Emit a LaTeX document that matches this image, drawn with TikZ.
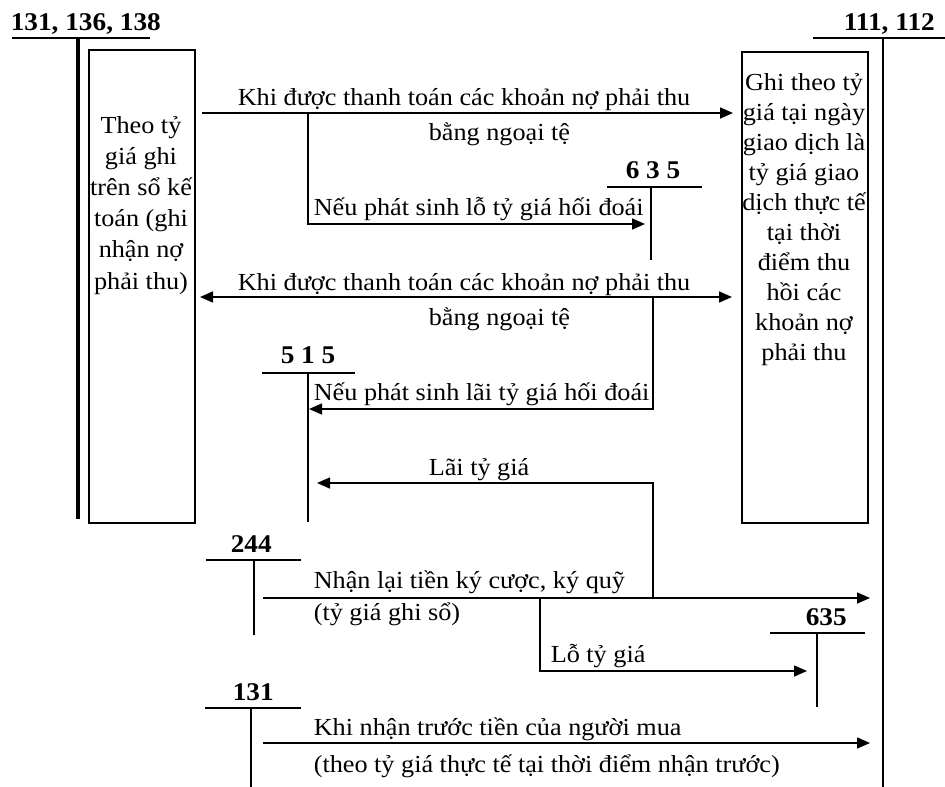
\documentclass[tikz,border=0pt]{standalone}
\usepackage{fontspec}
\setmainfont[FakeStretch=1.07]{Liberation Serif}
\usetikzlibrary{arrows.meta}
\newcommand\mytxt{\fontsize{24.5}{30}\selectfont}
\newcommand\mytxtL{\fontsize{24.5}{31.2}\selectfont}
\newcommand\myhead{\fontsize{25.5}{30}\selectfont\bfseries}
\begin{document}
\begin{tikzpicture}[x=1pt,y=-1pt,line width=1.6pt,
  >={Triangle[length=13pt,width=11pt]},
  lbl/.style={anchor=base west,inner sep=0pt,font=\mytxt},
  hdr/.style={anchor=base west,inner sep=0pt,font=\myhead},
  acct/.style={line width=1.8pt},
  boxstyle/.style={draw,line width=1.6pt,inner sep=0pt,anchor=north west}]
\fill[white] (0,0) rectangle (945,787);
\useasboundingbox (0,0) rectangle (945,787);

% ---- account 131,136,138 (left)
\node[hdr] (hL) at (10,30) {131, 136, 138};
\coordinate (uL1) at (12,38); \coordinate (uL2) at (150,38);
\draw[acct] (uL1) -- (uL2);
\coordinate (vL1) at (78,38); \coordinate (vL2) at (78,519);
\draw[line width=3.2pt] (vL1) -- (vL2);
\node[boxstyle,minimum width=106pt,minimum height=473pt] (boxL) at (88,49) {};
\node[anchor=base,inner sep=0pt,font=\mytxtL] (tL) at (141,133)
  {\begin{tabular}[t]{@{}c@{}}Theo tỷ\\giá ghi\\trên sổ kế\\toán (ghi\\nhận nợ\\phải thu)\end{tabular}};

% ---- account 111,112 (right)
\node[hdr] (hR) at (843,30) {111, 112};
\coordinate (uR1) at (813,38); \coordinate (uR2) at (945,38);
\draw[acct] (uR1) -- (uR2);
\coordinate (vR1) at (883,38); \coordinate (vR2) at (883,787);
\draw[line width=2pt] (vR1) -- (vR2);
\node[boxstyle,minimum width=126pt,minimum height=471pt] (boxR) at (741,51) {};
\node[anchor=base,inner sep=0pt,font=\mytxt] (tR) at (804,90)
  {\begin{tabular}[t]{@{}c@{}}Ghi theo tỷ\\giá tại ngày\\giao dịch là\\tỷ giá giao\\dịch thực tế\\tại thời\\điểm thu\\hồi các\\khoản nợ\\phải thu\end{tabular}};

% ---- account 635 (upper)
\node[hdr] (h635a) at (625,178) {6 3 5};
\coordinate (u635a1) at (607,187); \coordinate (u635a2) at (702,187);
\draw[acct] (u635a1) -- (u635a2);
\coordinate (v635a1) at (651,187); \coordinate (v635a2) at (651,260);
\draw[acct] (v635a1) -- (v635a2);

% ---- account 515
\node[hdr] (h515) at (280,363) {5 1 5};
\coordinate (u5151) at (262,373); \coordinate (u5152) at (355,373);
\draw[acct] (u5151) -- (u5152);
\coordinate (v5151) at (308,373); \coordinate (v5152) at (308,522);
\draw[acct] (v5151) -- (v5152);

% ---- account 244
\node[hdr] (h244) at (230,552) {244};
\coordinate (u2441) at (206,560); \coordinate (u2442) at (301,560);
\draw[acct] (u2441) -- (u2442);
\coordinate (v2441) at (254,560); \coordinate (v2442) at (254,635);
\draw[acct] (v2441) -- (v2442);

% ---- account 635 (lower)
\node[hdr] (h635b) at (805,625) {635};
\coordinate (u635b1) at (770,633); \coordinate (u635b2) at (865,633);
\draw[acct] (u635b1) -- (u635b2);
\coordinate (v635b1) at (817,633); \coordinate (v635b2) at (817,707);
\draw[acct] (v635b1) -- (v635b2);

% ---- account 131 (lower)
\node[hdr] (h131) at (232,700) {131};
\coordinate (u1311) at (205,708); \coordinate (u1312) at (301,708);
\draw[acct] (u1311) -- (u1312);
\coordinate (v1311) at (251,708); \coordinate (v1312) at (251,787);
\draw[acct] (v1311) -- (v1312);

% ---- row 1
\node[lbl] (t1) at (237,105) {Khi được thanh toán các khoản nợ phải thu};
\node[lbl] (t1b) at (428,140) {bằng ngoại tệ};
\coordinate (r1s) at (202,113); \coordinate (r1e) at (733,113);
\draw[->] (r1s) -- (r1e);
\coordinate (b1) at (308,113); \coordinate (b1e) at (645,224);
\draw[->] (b1) |- (b1e);
\node[lbl] (t2) at (313,215) {Nếu phát sinh lỗ tỷ giá hối đoái};

% ---- row 2
\node[lbl] (t3) at (237,290) {Khi được thanh toán các khoản nợ phải thu};
\node[lbl] (t3b) at (428,325) {bằng ngoại tệ};
\coordinate (r2s) at (200,297); \coordinate (r2e) at (732,297);
\draw[<->] (r2s) -- (r2e);
\coordinate (b2) at (653,297); \coordinate (b2e) at (309,409);
\draw[->] (b2) |- (b2e);
\node[lbl] (t4) at (313,400) {Nếu phát sinh lãi tỷ giá hối đoái};

% ---- lai ty gia
\coordinate (b3) at (653,598); \coordinate (b3e) at (317,483);
\draw[->] (b3) |- (b3e);
\node[lbl] (t5) at (428,475) {Lãi tỷ giá};

% ---- 244 -> 111
\coordinate (r3s) at (263,598); \coordinate (r3e) at (870,598);
\draw[->] (r3s) -- (r3e);
\node[lbl] (t6) at (313,588) {Nhận lại tiền ký cược, ký quỹ};
\node[lbl] (t6b) at (313,620) {(tỷ giá ghi sổ)};
\coordinate (b4) at (540,598); \coordinate (b4e) at (807,671);
\draw[->] (b4) |- (b4e);
\node[lbl] (t7) at (550,662) {Lỗ tỷ giá};

% ---- 131 -> 111
\coordinate (r4s) at (263,743); \coordinate (r4e) at (870,743);
\draw[->] (r4s) -- (r4e);
\node[lbl] (t8) at (313,735) {Khi nhận trước tiền của người mua};
\node[lbl] (t8b) at (313,772) {(theo tỷ giá thực tế tại thời điểm nhận trước)};
\end{tikzpicture}
\end{document}
